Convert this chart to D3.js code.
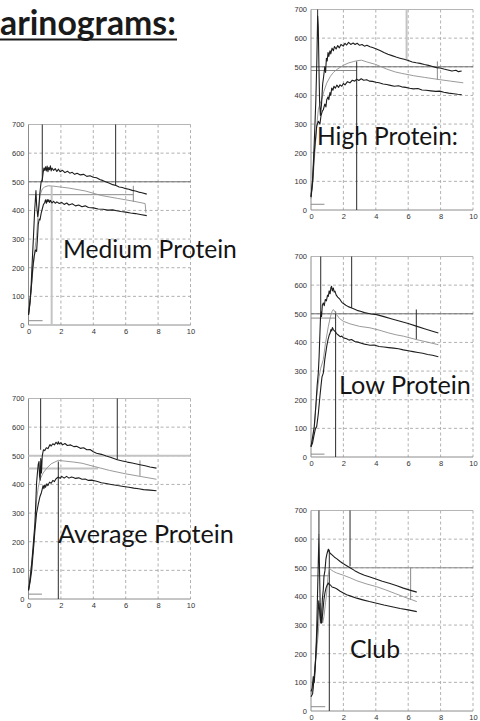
<!DOCTYPE html>
<html>
<head>
<meta charset="utf-8">
<script src="https://d3js.org/d3.v7.min.js"></script>
<style>
  body { margin: 0; background: #fff; }
  svg { display: block; }
</style>
</head>
<body>
<div id="my_dataviz"></div>
<script>
// tick labels shared by all five farinograms
var xTicks = [0, 2, 4, 6, 8, 10];
var yTicks = [0, 100, 200, 300, 400, 500, 600, 700];

// ---- Medium Protein ----
var mediumUpper = [[0,35],[0.08,70],[0.15,120],[0.22,210],[0.3,300],[0.38,400],[0.46,469],[0.5,420],[0.57,379],[0.62,400],[0.7,460],[0.78,500],[0.85,507],[0.9,530],[0.95,548],[1.0,540],[1.05,552],[1.1,538],[1.15,555],[1.2,535],[1.25,550],[1.3,542],[1.35,556],[1.4,538],[1.45,548],[1.55,540],[1.65,546],[1.75,536],[1.85,544],[1.95,535],[2.1,540],[2.25,532],[2.4,537],[2.55,530],[2.7,533],[2.85,526],[3.0,530],[3.2,524],[3.4,526],[3.6,519],[3.8,521],[4.0,516],[4.2,514],[4.4,508],[4.6,504],[4.8,499],[5.0,495],[5.2,490],[5.4,487],[5.6,482],[5.8,480],[6.0,476],[6.2,474],[6.4,470],[6.6,468],[6.8,464],[7.0,462],[7.3,457]];
var mediumMiddle = [[0,35],[0.1,80],[0.2,146],[0.3,210],[0.4,265],[0.5,313],[0.6,390],[0.71,453],[0.85,475],[1.0,482],[1.22,486],[1.5,485],[2.5,478],[3.5,468],[4.5,452],[5.5,442],[6.5,432],[7.2,424],[7.25,392]];
var mediumLower = [[0,35],[0.1,90],[0.2,150],[0.27,204],[0.35,240],[0.43,262],[0.5,257],[0.55,300],[0.6,350],[0.66,370],[0.71,367],[0.78,390],[0.85,405],[0.92,420],[1.0,428],[1.05,437],[1.1,425],[1.15,438],[1.2,430],[1.25,437],[1.3,428],[1.35,435],[1.45,426],[1.55,432],[1.65,425],[1.75,430],[1.9,424],[2.05,428],[2.2,421],[2.36,426],[2.5,419],[2.7,423],[2.9,416],[3.1,419],[3.3,413],[3.5,416],[3.7,410],[4.0,409],[4.3,405],[4.6,404],[4.9,401],[5.2,402],[5.44,399],[5.7,396],[6.0,394],[6.3,391],[6.6,389],[6.9,386],[7.3,382]];
var mediumVLines = [[0.85,500,700],[5.38,487,700],[6.47,430,486],[1.43,0,484]];
var mediumHLines = [[500,0,10],[455,0,6.47],[15,0,0.87]];

// ---- Average Protein ----
var averageUpper = [[0,30],[0.1,70],[0.2,125],[0.3,195],[0.4,265],[0.5,407],[0.55,440],[0.6,470],[0.65,480],[0.68,430],[0.72,415],[0.76,490],[0.8,440],[0.85,500],[0.92,521],[1.0,518],[1.1,528],[1.2,525],[1.33,539],[1.4,534],[1.5,542],[1.6,538],[1.7,547],[1.8,541],[1.84,549],[1.9,541],[2.0,546],[2.1,538],[2.25,543],[2.4,536],[2.6,538],[2.8,532],[2.97,533],[3.2,526],[3.4,528],[3.6,521],[3.8,522],[4.0,514],[4.2,509],[4.5,505],[4.8,499],[5.1,494],[5.48,486],[5.8,482],[6.1,478],[6.4,475],[6.88,469],[7.2,465],[7.5,461],[7.9,457]];
var averageMiddle = [[0,30],[0.1,80],[0.2,130],[0.3,171],[0.4,260],[0.5,346],[0.6,390],[0.71,417],[0.9,440],[1.13,457],[1.4,472],[1.84,484],[2.3,481],[2.8,478],[3.3,474],[4.1,462],[5.0,449],[6.0,437],[7.0,427],[7.9,418]];
var averageLower = [[0,30],[0.1,60],[0.2,101],[0.3,170],[0.4,241],[0.5,300],[0.6,330],[0.71,358],[0.8,372],[0.9,396],[0.95,385],[1.0,398],[1.05,390],[1.13,402],[1.2,396],[1.3,408],[1.4,404],[1.5,414],[1.6,410],[1.7,420],[1.84,426],[1.95,421],[2.05,428],[2.2,422],[2.35,428],[2.5,422],[2.65,426],[2.77,424],[2.9,421],[3.1,423],[3.3,418],[3.5,419],[3.7,414],[3.9,415],[4.2,411],[4.5,406],[4.8,403],[5.1,400],[5.5,396],[5.86,393],[6.2,390],[6.5,387],[6.8,385],[7.1,382],[7.5,380],[7.9,378]];
var averageVLines = [[0.75,521,700],[5.48,486,700],[1.84,0,480],[6.88,430,484]];
var averageHLines = [[500,0,10],[456,0,4.3],[17,0,0.83]];

// ---- High Protein ----
var highUpper = [[0,47],[0.1,105],[0.2,233],[0.3,385],[0.36,520],[0.41,677],[0.45,640],[0.49,500],[0.53,380],[0.58,330],[0.65,370],[0.72,440],[0.78,466],[0.85,500],[0.9,480],[0.95,530],[1.0,520],[1.05,550],[1.1,536],[1.17,556],[1.22,545],[1.3,565],[1.38,556],[1.45,571],[1.55,562],[1.65,574],[1.75,566],[1.85,578],[1.99,572],[2.1,582],[2.2,576],[2.32,585],[2.45,578],[2.6,583],[2.72,578],[2.85,582],[3.0,575],[3.15,578],[3.3,572],[3.45,575],[3.64,570],[3.8,567],[4.0,563],[4.26,557],[4.5,550],[4.75,544],[5.0,539],[5.25,534],[5.49,530],[5.75,526],[6.0,522],[6.25,517],[6.5,514],[6.73,512],[7.0,508],[7.25,505],[7.5,501],[7.75,497],[7.96,496],[8.2,492],[8.45,489],[8.7,485],[8.95,488],[9.1,483],[9.3,485]];
var highMiddle = [[0,40],[0.1,90],[0.25,210],[0.35,290],[0.45,350],[0.55,370],[0.66,385],[0.8,415],[0.97,443],[1.2,467],[1.38,480],[1.58,490],[1.99,505],[2.3,513],[2.61,518],[2.82,521],[3.12,523],[3.44,517],[4.0,508],[4.67,492],[5.2,482],[5.6,477],[6.32,469],[7.0,463],[7.6,458],[7.96,455],[8.6,450],[9.4,444]];
var highLower = [[0,45],[0.1,100],[0.2,200],[0.3,260],[0.35,292],[0.45,310],[0.55,300],[0.62,330],[0.7,345],[0.76,350],[0.85,370],[0.92,360],[0.97,385],[1.05,395],[1.1,385],[1.17,410],[1.22,400],[1.28,426],[1.35,418],[1.42,432],[1.5,425],[1.6,436],[1.7,428],[1.79,437],[1.9,432],[2.0,442],[2.1,437],[2.25,448],[2.4,444],[2.55,453],[2.7,450],[2.82,457],[2.95,452],[3.1,458],[3.25,453],[3.44,455],[3.6,450],[3.8,449],[4.0,446],[4.2,444],[4.45,440],[4.67,438],[4.9,435],[5.15,432],[5.4,434],[5.6,430],[5.85,428],[6.1,425],[6.32,423],[6.6,424],[6.85,419],[7.1,418],[7.4,416],[7.7,414],[7.96,415],[8.2,411],[8.5,408],[8.8,406],[9.05,404],[9.3,403]];
var highVLines = [[0.41,640,700],[5.9,525,700],[2.82,0,519],[7.8,455,519]];
var highHLines = [[500,0,10],[487,0,2.82],[20,0,0.83]];

// ---- Low Protein ----
var lowUpper = [[0,36],[0.1,70],[0.2,106],[0.3,180],[0.38,250],[0.45,293],[0.5,350],[0.55,430],[0.6,508],[0.65,490],[0.7,530],[0.76,538],[0.82,528],[0.88,550],[0.95,545],[1.02,565],[1.07,561],[1.12,580],[1.18,570],[1.23,592],[1.27,596],[1.32,580],[1.38,590],[1.43,576],[1.48,579],[1.55,566],[1.65,558],[1.79,550],[1.9,540],[2.0,536],[2.15,530],[2.3,525],[2.51,520],[2.7,516],[2.9,511],[3.1,508],[3.3,504],[3.5,502],[3.7,499],[4.05,497],[4.5,490],[5.0,482],[5.5,474],[6.0,466],[6.5,457],[7.0,448],[7.4,441],[7.86,433]];
var lowMiddle = [[0,36],[0.1,60],[0.2,100],[0.35,211],[0.5,280],[0.6,310],[0.76,340],[0.9,400],[1.07,456],[1.2,490],[1.3,508],[1.38,515],[1.45,510],[1.58,497],[1.75,484],[1.99,474],[2.4,465],[3.0,456],[3.64,451],[4.2,443],[4.8,433],[5.3,426],[5.7,422],[6.5,410],[7.2,401],[7.86,392]];
var lowLower = [[0,36],[0.1,50],[0.2,80],[0.28,100],[0.35,106],[0.45,150],[0.55,211],[0.62,250],[0.68,280],[0.76,293],[0.85,340],[0.97,386],[1.05,410],[1.12,425],[1.17,431],[1.23,445],[1.28,440],[1.32,452],[1.38,445],[1.45,440],[1.52,436],[1.58,431],[1.7,425],[1.8,420],[1.9,422],[2.0,416],[2.2,413],[2.35,408],[2.5,410],[2.7,403],[2.9,401],[3.1,397],[3.3,394],[3.5,392],[3.64,390],[3.9,391],[4.2,386],[4.5,384],[4.8,382],[5.1,380],[5.4,378],[5.7,374],[6.0,371],[6.3,368],[6.6,365],[6.9,362],[7.2,358],[7.5,355],[7.86,350]];
var lowVLines = [[0.6,508,700],[2.51,520,700],[1.52,0,508],[6.5,410,515]];
var lowHLines = [[500,0,10],[485,0,1.52],[10,0,0.83]];

// ---- Club ----
var clubUpper = [[0,68],[0.07,80],[0.14,120],[0.2,100],[0.25,140],[0.3,200],[0.35,280],[0.4,400],[0.45,520],[0.49,616],[0.53,480],[0.57,360],[0.6,307],[0.65,320],[0.7,390],[0.76,424],[0.8,470],[0.86,490],[0.92,530],[0.97,545],[1.02,556],[1.07,565],[1.12,556],[1.2,550],[1.3,545],[1.45,537],[1.58,532],[1.8,522],[2.0,514],[2.2,507],[2.41,500],[2.7,490],[3.0,481],[3.3,474],[3.64,468],[4.0,461],[4.4,453],[4.88,445],[5.3,437],[5.7,429],[6.1,422],[6.53,415]];
var clubMiddle = [[0,60],[0.1,70],[0.2,110],[0.25,150],[0.35,210],[0.45,272],[0.56,377],[0.63,360],[0.72,307],[0.8,330],[0.9,380],[0.97,412],[1.05,470],[1.13,499],[1.25,492],[1.4,487],[1.58,482],[2.0,474],[2.41,465],[2.82,455],[3.4,444],[4.05,434],[4.6,423],[5.2,410],[5.8,397],[6.2,389],[6.53,382]];
var clubLower = [[0,50],[0.1,60],[0.2,120],[0.28,180],[0.35,245],[0.42,320],[0.48,385],[0.52,360],[0.58,320],[0.65,307],[0.72,340],[0.8,390],[0.86,412],[0.93,430],[1.0,440],[1.07,447],[1.12,442],[1.2,440],[1.3,433],[1.45,430],[1.58,427],[1.8,418],[2.0,412],[2.2,406],[2.41,402],[2.82,394],[3.2,388],[3.6,382],[4.05,376],[4.5,370],[5.0,364],[5.5,358],[6.0,353],[6.53,347]];
var clubVLines = [[0.49,616,700],[2.41,505,700],[1.13,0,563],[6.15,388,500]];
var clubHLines = [[500,0,10],[472,0,1.13],[15,0,0.88]];

// the slide title is cut at the left edge in the source, only this part shows
var titleText = "arinograms:";

// page layout
var width = 480, height = 721;
var plotW = 162, plotH = 200.5;

var svg = d3.select("#my_dataviz")
    .append("svg")
    .attr("width", width)
    .attr("height", height);

// stroke styles for the reference lines (dark pen / grey pen / pale wide)
var pens = {
    dark:  {stroke: "#2a2a2a", w: 1},
    grey:  {stroke: "#8a8a8a", w: 1},
    pale:  {stroke: "#c4c4c4", w: 2},
    mid:   {stroke: "#6f6f6f", w: 1}
};

var charts = [
    {label: "Medium Protein", left: 28.5, top: 124.5, upper: mediumUpper, middle: mediumMiddle, lower: mediumLower,
     v: mediumVLines, vPen: ["dark","dark","grey","pale"], h: mediumHLines, hPen: ["mid","grey","grey"],
     lx: 63, ly: 258, lw: 174},
    {label: "Average Protein", left: 28.5, top: 398.5, upper: averageUpper, middle: averageMiddle, lower: averageLower,
     v: averageVLines, vPen: ["dark","dark","dark","grey"], h: averageHLines, hPen: ["pale","pale","grey"],
     lx: 58, ly: 543, lw: 176},
    {label: "High Protein:", left: 311, top: 9.5, upper: highUpper, middle: highMiddle, lower: highLower,
     v: highVLines, vPen: ["dark","pale","dark","grey"], h: highHLines, hPen: ["mid","grey","grey"],
     lx: 317, ly: 145, lw: 141},
    {label: "Low Protein", left: 311, top: 256.5, upper: lowUpper, middle: lowMiddle, lower: lowLower,
     v: lowVLines, vPen: ["dark","dark","dark","dark"], h: lowHLines, hPen: ["mid","grey","grey"],
     lx: 339, ly: 394, lw: 132},
    {label: "Club", left: 311, top: 510.5, upper: clubUpper, middle: clubMiddle, lower: clubLower,
     v: clubVLines, vPen: ["dark","dark","dark","grey"], h: clubHLines, hPen: ["grey","grey","grey"],
     lx: 350, ly: 658, lw: 50}
];

charts.forEach(function(c) {
    var g = svg.append("g")
        .attr("transform", "translate(" + c.left + "," + c.top + ")");

    var x = d3.scaleLinear().domain([0, 10]).range([0, plotW]);
    var y = d3.scaleLinear().domain([0, 700]).range([plotH, 0]);

    // dashed grid
    g.append("g").selectAll("line")
        .data(xTicks.slice(1))
        .enter().append("line")
        .attr("x1", function(d) { return x(d); })
        .attr("x2", function(d) { return x(d); })
        .attr("y1", y(700)).attr("y2", y(0))
        .attr("stroke", "#9d9d9d")
        .attr("stroke-width", 0.8)
        .attr("stroke-dasharray", "3,2.5");
    g.append("g").selectAll("line")
        .data(yTicks.slice(1, -1))
        .enter().append("line")
        .attr("x1", x(0)).attr("x2", x(10))
        .attr("y1", function(d) { return y(d); })
        .attr("y2", function(d) { return y(d); })
        .attr("stroke", "#9d9d9d")
        .attr("stroke-width", 0.8)
        .attr("stroke-dasharray", "3,2.5");

    // frame: top edge, left and bottom axis
    g.append("line").attr("x1", x(0)).attr("x2", x(10)).attr("y1", y(700)).attr("y2", y(700))
        .attr("stroke", "#b5b5b5").attr("stroke-width", 1);

    var xAxis = d3.axisBottom(x).tickValues(xTicks).tickSize(0).tickPadding(4);
    var yAxis = d3.axisLeft(y).tickValues(yTicks).tickSize(0).tickPadding(4);
    var gx = g.append("g").attr("transform", "translate(0," + plotH + ")").call(xAxis);
    var gy = g.append("g").call(yAxis);
    [gx, gy].forEach(function(a) {
        a.select(".domain").attr("stroke", "#8c8c8c").attr("stroke-width", 1);
        a.selectAll("text")
            .attr("fill", "#333")
            .style("font-family", "'Liberation Sans', Arial, sans-serif")
            .style("font-size", "7.5px");
    });
    gy.select(".domain").attr("d", "M0," + plotH + "V0");
    gx.select(".domain").attr("d", "M0,0H" + plotW);

    // horizontal reference lines
    g.append("g").selectAll("line")
        .data(c.h)
        .enter().append("line")
        .attr("x1", function(d) { return x(d[1]); })
        .attr("x2", function(d) { return x(d[2]); })
        .attr("y1", function(d) { return y(d[0]); })
        .attr("y2", function(d) { return y(d[0]); })
        .attr("stroke", function(d, i) { return pens[c.hPen[i]].stroke; })
        .attr("stroke-width", function(d, i) { return pens[c.hPen[i]].w; });

    // vertical reference lines
    g.append("g").selectAll("line")
        .data(c.v)
        .enter().append("line")
        .attr("x1", function(d) { return x(d[0]); })
        .attr("x2", function(d) { return x(d[0]); })
        .attr("y1", function(d) { return y(d[1]); })
        .attr("y2", function(d) { return y(d[2]); })
        .attr("stroke", function(d, i) { return pens[c.vPen[i]].stroke; })
        .attr("stroke-width", function(d, i) { return pens[c.vPen[i]].w; });

    // the three traces
    var line = d3.line()
        .x(function(d) { return x(d[0]); })
        .y(function(d) { return y(d[1]); });

    g.append("path").datum(c.middle)
        .attr("fill", "none").attr("stroke", "#8e8e8e").attr("stroke-width", 0.9)
        .attr("d", line);
    g.append("path").datum(c.upper)
        .attr("fill", "none").attr("stroke", "#1e1e1e").attr("stroke-width", 1.1)
        .attr("stroke-linejoin", "round")
        .attr("d", line);
    g.append("path").datum(c.lower)
        .attr("fill", "none").attr("stroke", "#1e1e1e").attr("stroke-width", 1.1)
        .attr("stroke-linejoin", "round")
        .attr("d", line);

    // big label, sized to the width it takes in the slide
    var t = svg.append("text")
        .attr("x", c.lx).attr("y", c.ly)
        .attr("fill", "#151515")
        .style("font-family", "Lato, 'Open Sans', sans-serif")
        .style("font-size", "24px")
        .text(c.label);
    var len = t.node().getComputedTextLength();
    t.style("font-size", (24 * c.lw / len) + "px");
});

// slide title, underlined, flush with the left edge
var title = svg.append("text")
    .attr("x", 0)
    .attr("y", 35)
    .attr("fill", "#1a1a1a")
    .style("font-family", "Lato, sans-serif")
    .style("font-weight", "bold")
    .style("font-size", "28px")
    .text(titleText);
title.style("font-size", (28 * 176 / title.node().getComputedTextLength()) + "px");

svg.append("line")
    .attr("x1", 0).attr("x2", 177)
    .attr("y1", 39.5).attr("y2", 39.5)
    .attr("stroke", "#1a1a1a").attr("stroke-width", 2);
</script>
</body>
</html>
